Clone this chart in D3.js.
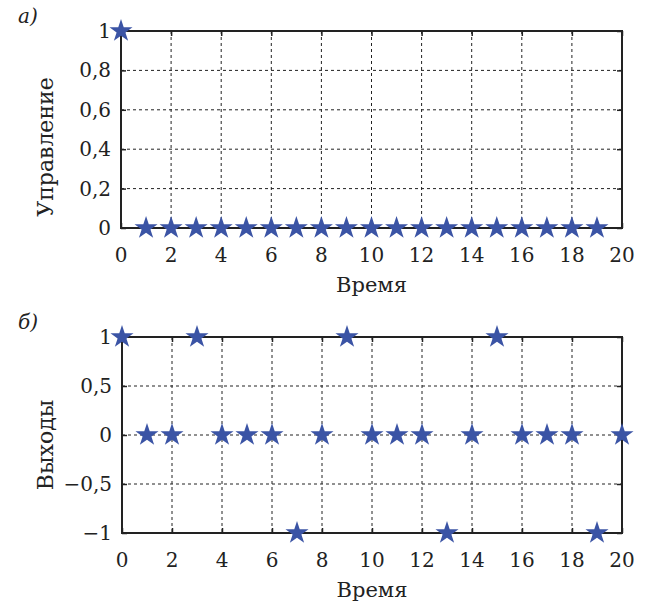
<!DOCTYPE html>
<html>
<head>
<meta charset="utf-8">
<script src="https://cdn.jsdelivr.net/npm/d3@7"></script>
<style>
body { margin: 0; background: #fff; }
text { font-family: "DejaVu Serif", "Liberation Serif", serif; fill: #222; }
.grid line { stroke: #222; stroke-width: 1; stroke-dasharray: 3,3; }
.frame { fill: none; stroke: #222; stroke-width: 2; }
</style>
</head>
<body>
<div class="container"></div>
<script>
// data
var timeTop = d3.range(0, 20);
var control = [1, 0, 0, 0, 0, 0, 0, 0, 0, 0, 0, 0, 0, 0, 0, 0, 0, 0, 0, 0];
var timeBottom = d3.range(0, 21);
var outputs = [1, 0, 0, 1, 0, 0, 0, -1, 0, 1, 0, 0, 0, -1, 0, 1, 0, 0, 0, -1, 0];
var xTicks = [0, 2, 4, 6, 8, 10, 12, 14, 16, 18, 20];
var yTicksTop = [0, 0.2, 0.4, 0.6, 0.8, 1];
var yTicksBottom = [-1, -0.5, 0, 0.5, 1];

const WIDTH = 652;
const HEIGHT = 606;
const STAR_COLOR = "#3b54a5";

var svg = d3.select('.container').append('svg')
	.attr('width', WIDTH)
	.attr('height', HEIGHT);

var fmt = function(v){
	return String(v).replace('.', ',').replace('-', '\u2212');
};

var drawPanel = function(opt){
	var x = d3.scaleLinear().domain([0, 20]).range([opt.left, opt.right]);
	var y = d3.scaleLinear().domain(opt.yDomain).range([opt.bottom, opt.top]);

	// grid
	var grid = svg.append('g').classed('grid', true);
	grid.selectAll('.gx').data(xTicks.slice(1, -1)).enter().append('line')
		.attr('x1', d => x(d)).attr('x2', d => x(d))
		.attr('y1', opt.top).attr('y2', opt.bottom);
	grid.selectAll('.gy').data(opt.yTicks.slice(1, -1)).enter().append('line')
		.attr('class', 'gy')
		.attr('x1', opt.left).attr('x2', opt.right)
		.attr('y1', d => y(d)).attr('y2', d => y(d));

	// inner ticks
	var xb = d3.axisBottom(x).tickValues(xTicks).tickSizeInner(-5).tickSizeOuter(0).tickFormat('');
	var xt = d3.axisTop(x).tickValues(xTicks).tickSizeInner(-5).tickSizeOuter(0).tickFormat('');
	var yl = d3.axisLeft(y).tickValues(opt.yTicks).tickSizeInner(-5).tickSizeOuter(0).tickFormat('');
	var yr = d3.axisRight(y).tickValues(opt.yTicks).tickSizeInner(-5).tickSizeOuter(0).tickFormat('');
	[[xb, 'translate(0,' + opt.bottom + ')'], [xt, 'translate(0,' + opt.top + ')'],
	 [yl, 'translate(' + opt.left + ',0)'], [yr, 'translate(' + opt.right + ',0)']].forEach(function(a){
		var g = svg.append('g').attr('transform', a[1]).call(a[0]);
		g.select('.domain').remove();
		g.selectAll('line').attr('stroke', '#222').attr('stroke-width', 1.5);
	});

	svg.append('rect').classed('frame', true)
		.attr('x', opt.left).attr('y', opt.top)
		.attr('width', opt.right - opt.left).attr('height', opt.bottom - opt.top);

	// tick labels
	svg.append('g').selectAll('text').data(xTicks).enter().append('text')
		.attr('x', d => x(d)).attr('y', opt.bottom + 34)
		.attr('text-anchor', 'middle').attr('font-size', 20)
		.text(d => fmt(d));
	svg.append('g').selectAll('text').data(opt.yTicks).enter().append('text')
		.attr('x', opt.left - 10).attr('y', d => y(d) + 7)
		.attr('text-anchor', 'end').attr('font-size', 20)
		.text(d => fmt(d));

	svg.append('text')
		.attr('x', (opt.left + opt.right) / 2).attr('y', opt.bottom + 64)
		.attr('text-anchor', 'middle').attr('font-size', 21)
		.text('Время');
	svg.append('text')
		.attr('transform', 'translate(' + 53 + ',' + opt.labelY + ') rotate(-90)')
		.attr('text-anchor', 'middle').attr('font-size', 22)
		.text(opt.yLabel);
	svg.append('text')
		.attr('x', 18).attr('y', opt.top - 8)
		.attr('font-size', 20).attr('font-style', 'italic')
		.text(opt.tag);

	// stars
	var star = d3.symbol().type(d3.symbolStar).size(165);
	svg.append('g').selectAll('path').data(opt.xs).enter().append('path')
		.attr('d', star)
		.attr('fill', STAR_COLOR)
		.attr('transform', (d, i) => 'translate(' + x(d) + ',' + y(opt.ys[i]) + ')');
};

drawPanel({left: 121, right: 622, top: 31, bottom: 228, yDomain: [0, 1], labelY: 147,
	yTicks: yTicksTop, yLabel: 'Управление', tag: 'а)', xs: timeTop, ys: control});
drawPanel({left: 122, right: 622, top: 337, bottom: 533, yDomain: [-1, 1], labelY: 445,
	yTicks: yTicksBottom, yLabel: 'Выходы', tag: 'б)', xs: timeBottom, ys: outputs});
</script>
</body>
</html>
